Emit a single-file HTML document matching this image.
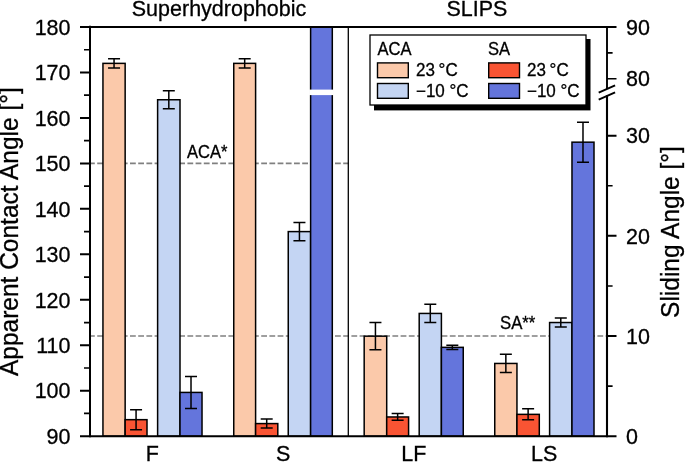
<!DOCTYPE html>
<html lang="en"><head><meta charset="utf-8"><title>Contact angle chart</title>
<style>html,body{margin:0;padding:0;background:#fff;}body{width:685px;height:462px;overflow:hidden;font-family:"Liberation Sans",Arial,Helvetica,sans-serif;}svg{display:block;}text{stroke:#000;stroke-width:0.3px;}</style>
</head><body>
<svg width="685" height="462" viewBox="0 0 685 462" font-family="'Liberation Sans', Arial, Helvetica, sans-serif" fill="#000">
<rect x="0" y="0" width="685" height="462" fill="#fff" stroke="none"/>
<line x1="90.0" x2="348.3" y1="163.40" y2="163.40" stroke="#808080" stroke-width="1.7" stroke-dasharray="5.8 2.4" stroke-dashoffset="1"/>
<line x1="90.0" x2="607.0" y1="336.02" y2="336.02" stroke="#808080" stroke-width="1.7" stroke-dasharray="5.8 2.4" stroke-dashoffset="1"/>
<rect x="102.95" y="63.37" width="22.20" height="372.83" fill="#FBC9AA" stroke="#000" stroke-width="1.5"/>
<path d="M114.05 58.83V67.92M108.05 58.83H120.05M108.05 67.92H120.05" stroke="#000" stroke-width="1.5" fill="none"/>
<rect x="125.15" y="419.67" width="21.85" height="16.53" fill="#F95433" stroke="#000" stroke-width="1.5"/>
<path d="M136.07 409.65V429.69M130.07 409.65H142.07M130.07 429.69H142.07" stroke="#000" stroke-width="1.5" fill="none"/>
<rect x="157.62" y="99.75" width="22.38" height="336.45" fill="#C4D5F3" stroke="#000" stroke-width="1.5"/>
<path d="M168.81 90.65V108.84M162.81 90.65H174.81M162.81 108.84H174.81" stroke="#000" stroke-width="1.5" fill="none"/>
<rect x="180.00" y="392.42" width="22.02" height="43.78" fill="#6475DC" stroke="#000" stroke-width="1.5"/>
<path d="M191.01 376.39V408.45M185.01 376.39H197.01M185.01 408.45H197.01" stroke="#000" stroke-width="1.5" fill="none"/>
<rect x="233.75" y="63.37" width="21.85" height="372.83" fill="#FBC9AA" stroke="#000" stroke-width="1.5"/>
<path d="M244.68 58.83V67.92M238.68 58.83H250.68M238.68 67.92H250.68" stroke="#000" stroke-width="1.5" fill="none"/>
<rect x="255.60" y="423.58" width="22.20" height="12.62" fill="#F95433" stroke="#000" stroke-width="1.5"/>
<path d="M266.70 419.07V428.09M260.70 419.07H272.70M260.70 428.09H272.70" stroke="#000" stroke-width="1.5" fill="none"/>
<rect x="288.25" y="231.60" width="22.37" height="204.60" fill="#C4D5F3" stroke="#000" stroke-width="1.5"/>
<path d="M299.44 222.51V240.69M293.44 222.51H305.44M293.44 240.69H305.44" stroke="#000" stroke-width="1.5" fill="none"/>
<rect x="310.62" y="27.00" width="21.68" height="409.20" fill="#6475DC" stroke="#000" stroke-width="1.5"/>
<rect x="309.12" y="89.6" width="24.68" height="5.5" fill="#fff"/>
<rect x="364.18" y="336.17" width="22.52" height="100.03" fill="#FBC9AA" stroke="#000" stroke-width="1.5"/>
<path d="M375.44 322.53V349.81M369.44 322.53H381.44M369.44 349.81H381.44" stroke="#000" stroke-width="1.5" fill="none"/>
<rect x="386.70" y="416.97" width="21.88" height="19.23" fill="#F95433" stroke="#000" stroke-width="1.5"/>
<path d="M397.64 413.56V420.37M391.64 413.56H403.64M391.64 420.37H403.64" stroke="#000" stroke-width="1.5" fill="none"/>
<rect x="419.20" y="313.44" width="22.20" height="122.76" fill="#C4D5F3" stroke="#000" stroke-width="1.5"/>
<path d="M430.30 304.35V322.53M424.30 304.35H436.30M424.30 322.53H436.30" stroke="#000" stroke-width="1.5" fill="none"/>
<rect x="441.40" y="347.34" width="21.85" height="88.86" fill="#6475DC" stroke="#000" stroke-width="1.5"/>
<path d="M452.33 345.14V349.54M446.33 345.14H458.33M446.33 349.54H458.33" stroke="#000" stroke-width="1.5" fill="none"/>
<rect x="494.75" y="363.45" width="22.20" height="72.75" fill="#FBC9AA" stroke="#000" stroke-width="1.5"/>
<path d="M505.85 354.36V372.55M499.85 354.36H511.85M499.85 372.55H511.85" stroke="#000" stroke-width="1.5" fill="none"/>
<rect x="516.95" y="414.36" width="22.35" height="21.84" fill="#F95433" stroke="#000" stroke-width="1.5"/>
<path d="M528.12 408.85V419.87M522.12 408.85H534.12M522.12 419.87H534.12" stroke="#000" stroke-width="1.5" fill="none"/>
<rect x="549.60" y="322.53" width="22.38" height="113.67" fill="#C4D5F3" stroke="#000" stroke-width="1.5"/>
<path d="M560.79 317.99V327.08M554.79 317.99H566.79M554.79 327.08H566.79" stroke="#000" stroke-width="1.5" fill="none"/>
<rect x="571.98" y="142.17" width="22.02" height="294.03" fill="#6475DC" stroke="#000" stroke-width="1.5"/>
<path d="M582.99 122.14V162.21M576.99 122.14H588.99M576.99 162.21H588.99" stroke="#000" stroke-width="1.5" fill="none"/>
<line x1="348.3" x2="348.3" y1="27.0" y2="436.2" stroke="#000" stroke-width="1.3"/>
<path d="M80.0 27.0H616.5M80.0 436.2H616.5" stroke="#000" stroke-width="2" fill="none"/>
<path d="M90.0 25.7V437.2" stroke="#000" stroke-width="2" fill="none"/>
<path d="M607.0 27.0V89" stroke="#000" stroke-width="1.9" fill="none"/>
<path d="M607.0 95.3V437.2" stroke="#000" stroke-width="2.1" fill="none"/>
<path d="M598.7 92.7L615.1 85.4M598.7 99.7L615.1 92.4" stroke="#000" stroke-width="2" fill="none"/>
<path d="M80.0 390.73H90.0M80.0 345.27H90.0M80.0 299.80H90.0M80.0 254.33H90.0M80.0 208.87H90.0M80.0 163.40H90.0M80.0 117.93H90.0M80.0 72.47H90.0" stroke="#000" stroke-width="2" fill="none"/>
<path d="M84.0 413.47H90.0M84.0 368.00H90.0M84.0 322.53H90.0M84.0 277.07H90.0M84.0 231.60H90.0M84.0 186.13H90.0M84.0 140.67H90.0M84.0 95.20H90.0M84.0 49.73H90.0" stroke="#000" stroke-width="1.7" fill="none"/>
<text transform="translate(70.50 443.90) scale(1.0 1.04)" font-size="21.5" text-anchor="end">90</text>
<text transform="translate(70.50 398.43) scale(1.0 1.04)" font-size="21.5" text-anchor="end">100</text>
<text transform="translate(70.50 352.97) scale(1.0 1.04)" font-size="21.5" text-anchor="end">110</text>
<text transform="translate(70.50 307.50) scale(1.0 1.04)" font-size="21.5" text-anchor="end">120</text>
<text transform="translate(70.50 262.03) scale(1.0 1.04)" font-size="21.5" text-anchor="end">130</text>
<text transform="translate(70.50 216.57) scale(1.0 1.04)" font-size="21.5" text-anchor="end">140</text>
<text transform="translate(70.50 171.10) scale(1.0 1.04)" font-size="21.5" text-anchor="end">150</text>
<text transform="translate(70.50 125.63) scale(1.0 1.04)" font-size="21.5" text-anchor="end">160</text>
<text transform="translate(70.50 80.17) scale(1.0 1.04)" font-size="21.5" text-anchor="end">170</text>
<text transform="translate(70.50 34.70) scale(1.0 1.04)" font-size="21.5" text-anchor="end">180</text>
<path d="M607.0 336.02H616.5M607.0 235.84H616.5M607.0 135.66H616.5" stroke="#000" stroke-width="2" fill="none"/>
<path d="M607.0 386.11H612.6M607.0 285.93H612.6M607.0 185.75H612.6M607.0 78.70H616.5M607.0 52.85H612.6" stroke="#000" stroke-width="1.6" fill="none"/>
<text transform="translate(626.00 443.90) scale(1.0 1.04)" font-size="21.5">0</text>
<text transform="translate(626.00 343.72) scale(1.0 1.04)" font-size="21.5">10</text>
<text transform="translate(626.00 243.54) scale(1.0 1.04)" font-size="21.5">20</text>
<text transform="translate(626.00 143.36) scale(1.0 1.04)" font-size="21.5">30</text>
<text transform="translate(626.00 86.40) scale(1.0 1.04)" font-size="21.5">80</text>
<text transform="translate(626.00 34.70) scale(1.0 1.04)" font-size="21.5">90</text>
<text transform="translate(152.40 460.60) scale(1.0 1.04)" font-size="21.5" text-anchor="middle">F</text>
<text transform="translate(283.20 460.60) scale(1.0 1.04)" font-size="21.5" text-anchor="middle">S</text>
<text transform="translate(413.80 460.60) scale(1.0 1.04)" font-size="21.5" text-anchor="middle">LF</text>
<text transform="translate(544.20 460.60) scale(1.0 1.04)" font-size="21.5" text-anchor="middle">LS</text>
<text transform="translate(219.00 16.30) scale(1.0 1.04)" font-size="21.5" text-anchor="middle">Superhydrophobic</text>
<text transform="translate(477.00 16.30) scale(1.0 1.04)" font-size="21.5" text-anchor="middle">SLIPS</text>
<text transform="translate(18.00 231.60) rotate(-90) scale(1.0 1.02)" font-size="24.5" text-anchor="middle">Apparent Contact Angle [°]</text>
<text transform="translate(679.30 232.00) rotate(-90) scale(1.0 1.02)" font-size="24.5" text-anchor="middle">Sliding Angle [°]</text>
<text transform="translate(187.00 157.70) scale(0.985 1.04)" font-size="16.8">ACA*</text>
<text transform="translate(500.00 329.30) scale(0.985 1.04)" font-size="17">SA**</text>
<rect x="374" y="39" width="216.5" height="71.4" fill="#000"/>
<rect x="370" y="35" width="216" height="70" fill="#fff" stroke="#000" stroke-width="1.3"/>
<text transform="translate(377.50 55.20) scale(0.975 1.04)" font-size="17">ACA</text>
<text transform="translate(488.00 55.20) scale(0.975 1.04)" font-size="17">SA</text>
<rect x="377.5" y="62.9" width="30.8" height="14.8" fill="#FBC9AA" stroke="#000" stroke-width="1.4"/>
<rect x="377.5" y="83.5" width="30.8" height="14.8" fill="#C4D5F3" stroke="#000" stroke-width="1.4"/>
<rect x="488.7" y="62.9" width="30.8" height="14.8" fill="#F95433" stroke="#000" stroke-width="1.4"/>
<rect x="488.7" y="83.5" width="30.8" height="14.8" fill="#6475DC" stroke="#000" stroke-width="1.4"/>
<text transform="translate(416.00 76.00) scale(1.0 1.04)" font-size="17" word-spacing="-1">23 °C</text>
<text transform="translate(416.00 96.50) scale(1.0 1.04)" font-size="17">−10 °C</text>
<text transform="translate(527.00 76.00) scale(1.0 1.04)" font-size="17" word-spacing="-1">23 °C</text>
<text transform="translate(527.00 96.50) scale(1.0 1.04)" font-size="17">−10 °C</text>
</svg>
</body></html>
